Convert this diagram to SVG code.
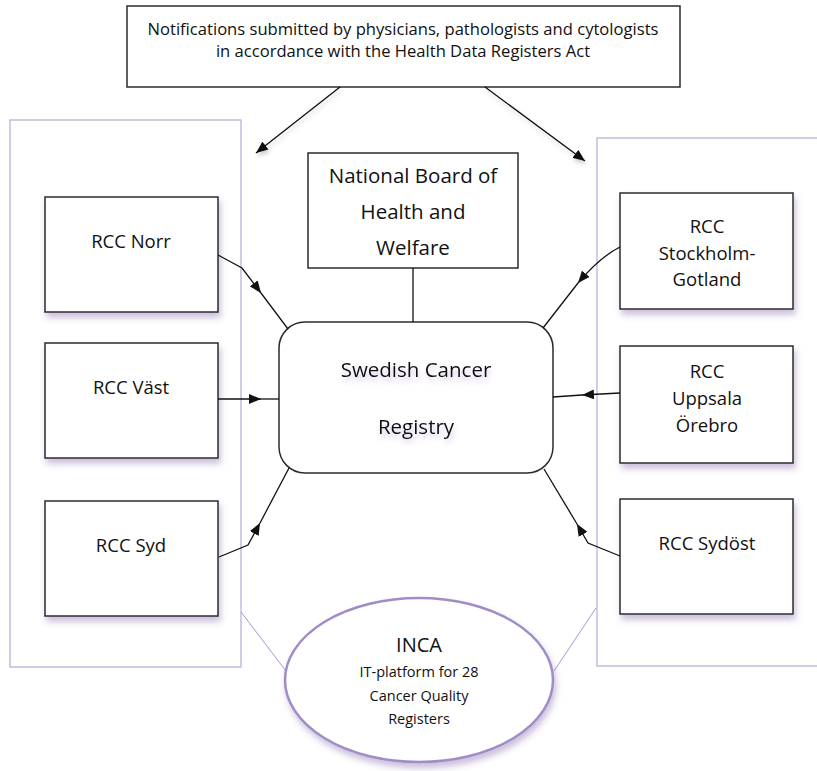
<svg xmlns="http://www.w3.org/2000/svg" width="817" height="771" viewBox="0 0 817 771">
<style>
.box{fill:#fff;stroke:#2b2b2b;stroke-width:1.5}
.cont{fill:none;stroke:#b7a9d8;stroke-width:1.2}
.link{fill:none;stroke:#a898cc;stroke-width:1}
.conn{fill:none;stroke:#111;stroke-width:1.3}
text{font-family:"Open Sans","Liberation Sans",sans-serif;fill:#111;text-anchor:middle}
.t16{font-size:16.6px}
.rcc{font-size:18.5px}
.big{font-size:20.5px}
.small{font-size:14.5px}
</style>
<defs>
<filter id="sh" x="-20%" y="-20%" width="140%" height="150%">
<feDropShadow dx="2" dy="5" stdDeviation="3" flood-color="#6a4c99" flood-opacity="0.35"/>
</filter>
<filter id="tsh" x="-10%" y="-30%" width="120%" height="180%">
<feDropShadow dx="1" dy="4" stdDeviation="2.5" flood-color="#6a4c99" flood-opacity="0.3"/>
</filter>
<filter id="ash" x="-30%" y="-30%" width="160%" height="160%">
<feDropShadow dx="1" dy="3" stdDeviation="2" flood-color="#555" flood-opacity="0.3"/>
</filter>
<marker id="ah" viewBox="0 0 12 10" refX="12" refY="5" markerWidth="12" markerHeight="10" markerUnits="userSpaceOnUse" orient="auto">
<path d="M0,0 L12,5 L0,10 z" fill="#111"/>
</marker>
</defs>

<g id="containers">
<rect class="cont" x="10" y="120" width="231" height="547"/>
<rect class="cont" x="597" y="138" width="240" height="528"/>
<line class="link" x1="241" y1="612" x2="286" y2="671"/>
<line class="link" x1="596" y1="608" x2="554" y2="671"/>
</g>

<g id="notifications">
<rect class="box" x="127" y="6" width="553" height="81"/>
<text class="t16" x="403" y="35">Notifications submitted by physicians, pathologists and cytologists</text>
<text class="t16" x="403" y="57">in accordance with the Health Data Registers Act</text>
</g>

<g id="national-board">
<rect class="box" x="308" y="153" width="210" height="115"/>
<text class="big" x="413" y="183">National Board of</text>
<text class="big" x="413" y="219">Health and</text>
<text class="big" x="413" y="255">Welfare</text>
</g>

<g id="registry">
<rect class="box" x="279" y="322" width="274" height="151" rx="26" ry="26"/>
<g filter="url(#tsh)">
<text class="big" x="416" y="377">Swedish Cancer</text>
<text class="big" x="416" y="434">Registry</text>
</g>
</g>

<g id="rcc-norr">
<rect class="box" x="45" y="197" width="173" height="115" filter="url(#sh)"/>
<text class="rcc" x="131" y="248">RCC Norr</text>
</g>
<g id="rcc-vast">
<rect class="box" x="45" y="343" width="173" height="115" filter="url(#sh)"/>
<text class="rcc" x="131" y="394">RCC Väst</text>
</g>
<g id="rcc-syd">
<rect class="box" x="45" y="501" width="173" height="115" filter="url(#sh)"/>
<text class="rcc" x="131" y="552">RCC Syd</text>
</g>

<g id="rcc-stockholm">
<rect class="box" x="620" y="193" width="173" height="116" filter="url(#sh)"/>
<text class="rcc" x="707" y="233">RCC</text>
<text class="rcc" x="707" y="260">Stockholm-</text>
<text class="rcc" x="707" y="286">Gotland</text>
</g>
<g id="rcc-uppsala">
<rect class="box" x="620" y="346" width="173" height="117" filter="url(#sh)"/>
<text class="rcc" x="707" y="378">RCC</text>
<text class="rcc" x="707" y="405">Uppsala</text>
<text class="rcc" x="707" y="432">Örebro</text>
</g>
<g id="rcc-sydost">
<rect class="box" x="620" y="499" width="173" height="115" filter="url(#sh)"/>
<text class="rcc" x="707" y="550">RCC Sydöst</text>
</g>

<g id="inca">
<ellipse cx="419" cy="680" rx="134" ry="82" fill="#fff" stroke="#a08cc6" stroke-width="2.5" filter="url(#sh)"/>
<text x="419" y="652" style="font-size:20px">INCA</text>
<text class="small" x="419" y="677">IT-platform for 28</text>
<text class="small" x="419" y="701">Cancer Quality</text>
<text class="small" x="419" y="724">Registers</text>
</g>

<g id="connectors">
<path class="conn" d="M340,87 L256,153" marker-end="url(#ah)" filter="url(#ash)"/>
<path class="conn" d="M485,87 L585,161" marker-end="url(#ah)" filter="url(#ash)"/>
<line class="conn" x1="413" y1="268" x2="413" y2="322"/>
<path class="conn" d="M218,255 L242,268 L261,293" marker-end="url(#ah)"/>
<path class="conn" d="M261,293 L288,329"/>
<path class="conn" d="M218,399 L261,399" marker-end="url(#ah)"/>
<path class="conn" d="M261,399 L279,399"/>
<path class="conn" d="M219,557 L248,545 L260,523" marker-end="url(#ah)"/>
<path class="conn" d="M260,523 L289,468"/>
<path class="conn" d="M620,247 Q600,257 578,283" marker-end="url(#ah)"/>
<path class="conn" d="M578,283 L543,328"/>
<path class="conn" d="M620,393 L582,395" marker-end="url(#ah)"/>
<path class="conn" d="M582,395 L553,397"/>
<path class="conn" d="M620,556 L588,543 L577,524" marker-end="url(#ah)"/>
<path class="conn" d="M577,524 L544,469"/>
</g>
</svg>
